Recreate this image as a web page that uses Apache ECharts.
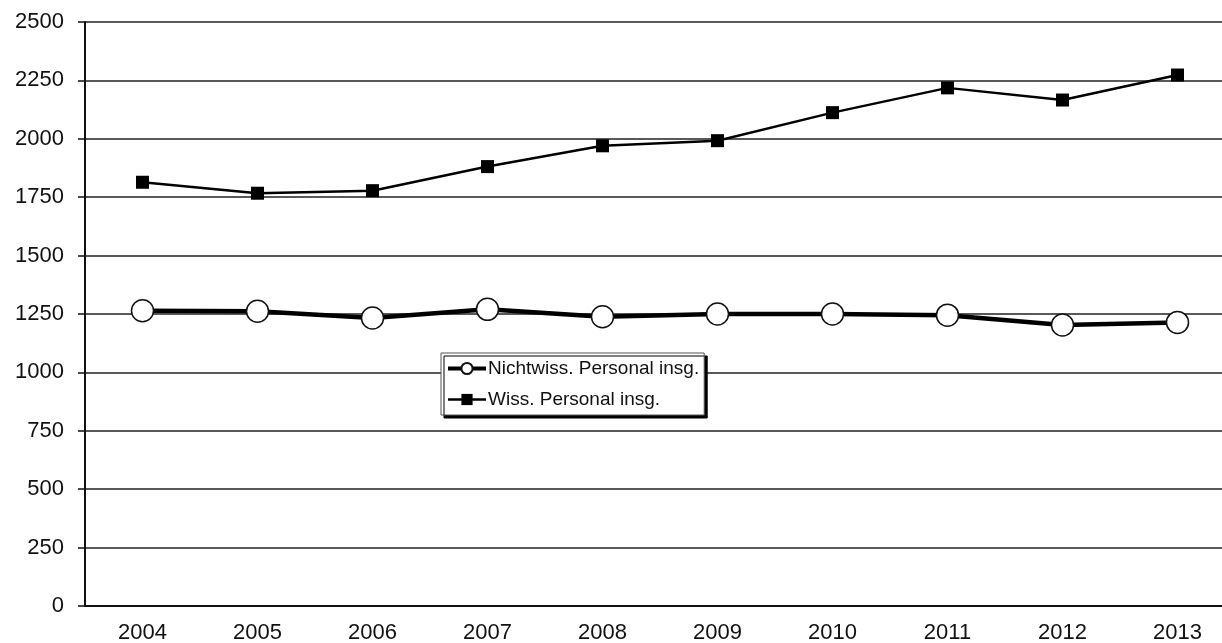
<!DOCTYPE html>
<html>
<head>
<meta charset="utf-8">
<script src="https://cdn.jsdelivr.net/npm/echarts@6/dist/echarts.min.js"></script>
<style>
html,body{margin:0;padding:0;background:#fff;}
#chart{width:1222px;height:643px;}
</style>
</head>
<body>
<div id="chart"></div>
<script>
const categories = ['2004','2005','2006','2007','2008','2009','2010','2011','2012','2013'];
const nichtwiss = [1264, 1262, 1233, 1270, 1238, 1250, 1250, 1245, 1203, 1214];
const wiss = [1814, 1767, 1778, 1881, 1970, 1992, 2112, 2218, 2166, 2273];
const seriesNames = ['Nichtwiss. Personal insg.', 'Wiss. Personal insg.'];

const FONT = "'Liberation Sans', Arial, sans-serif";
const chart = echarts.init(document.getElementById('chart'), null, {renderer: 'canvas'});
chart.setOption({
  backgroundColor: '#ffffff',
  animation: false,
  grid: {left: 85, top: 22, width: 1150, height: 584, containLabel: false, outerBoundsMode: 'none'},
  legend: {
    orient: 'vertical',
    left: 441,
    top: 353,
    padding: [6, 5, 6, 5],
    itemGap: 12,
    itemWidth: 38,
    itemHeight: 14,
    backgroundColor: '#ffffff',
    borderColor: '#555',
    borderWidth: 1,
    shadowColor: '#000',
    shadowBlur: 0,
    shadowOffsetX: 3,
    shadowOffsetY: 3,
    textStyle: {fontFamily: FONT, fontSize: 19, color: '#111', padding: [0, 0, 0, -3]},
    data: [
      {name: seriesNames[0], lineStyle: {width: 4}},
      {name: seriesNames[1], lineStyle: {width: 2.5}}
    ]
  },
  xAxis: {
    type: 'category',
    data: categories,
    boundaryGap: true,
    axisLine: {lineStyle: {color: '#111', width: 2}},
    axisTick: {inside: true, length: 7, lineStyle: {color: '#111', width: 1.5}},
    axisLabel: {fontFamily: FONT, fontSize: 22, color: '#111', margin: 16},
    splitLine: {show: false}
  },
  yAxis: {
    type: 'value',
    min: 0, max: 2500, interval: 250,
    axisLine: {show: true, lineStyle: {color: '#111', width: 2}},
    axisTick: {show: true, length: 7, lineStyle: {color: '#111', width: 1.5}},
    axisLabel: {fontFamily: FONT, fontSize: 22, color: '#111', margin: 21, formatter: v => String(v)},
    splitLine: {show: true, lineStyle: {color: '#222', width: 1.5}}
  },
  series: [
    {
      name: seriesNames[0],
      type: 'line',
      data: nichtwiss,
      symbol: 'circle',
      symbolSize: 22,
      lineStyle: {color: '#000', width: 4.5},
      itemStyle: {color: '#ffffff', borderColor: '#111', borderWidth: 1.5},
      z: 3
    },
    {
      name: seriesNames[1],
      type: 'line',
      data: wiss,
      symbol: 'rect',
      symbolSize: 13,
      lineStyle: {color: '#000', width: 2.5},
      itemStyle: {color: '#000', borderColor: '#000', borderWidth: 0},
      z: 3
    }
  ]
});
</script>
</body>
</html>
